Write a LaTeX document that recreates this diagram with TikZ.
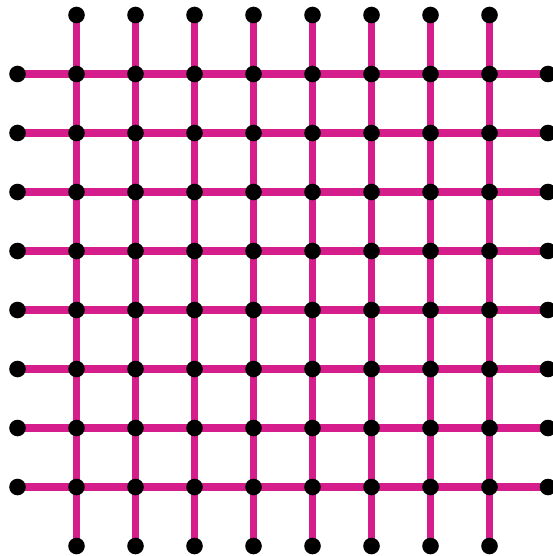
\documentclass[tikz,border=0pt]{standalone}
\usepackage{tikz}
\usetikzlibrary{backgrounds}
\usepackage{xcolor}
\definecolor{gridpink}{RGB}{213,30,140}

\begin{document}
\begin{tikzpicture}[x=1pt, y=-1pt,
    dot/.style={circle, fill=black, inner sep=0pt, minimum size=16.6pt},
    wire/.style={gridpink, line width=7.5pt}]
        \useasboundingbox (0,0) rectangle (553,556);
        % inner crossings
        \foreach \i in {1,...,8} {
          \foreach \j in {1,...,8} {
            \node[dot] (p-\i-\j) at ({17.5+59*\i},{15+59*\j}) {};
          }
        }
        % end points on the four sides
        \foreach \i in {1,...,8} {
          \node[dot] (t-\i) at ({17.5+59*\i},15) {};
          \node[dot] (b-\i) at ({17.5+59*\i},546) {};
          \node[dot] (l-\i) at (17.5,{15+59*\i}) {};
          \node[dot] (r-\i) at (548,{15+59*\i}) {};
        }
        % wires behind the dots
        \begin{scope}[on background layer]
          \foreach \i in {1,...,8} {
            \draw[wire] (t-\i.center) -- (b-\i.center);
            \draw[wire] (l-\i.center) -- (r-\i.center);
          }
        \end{scope}
      \end{tikzpicture}
\end{document}
